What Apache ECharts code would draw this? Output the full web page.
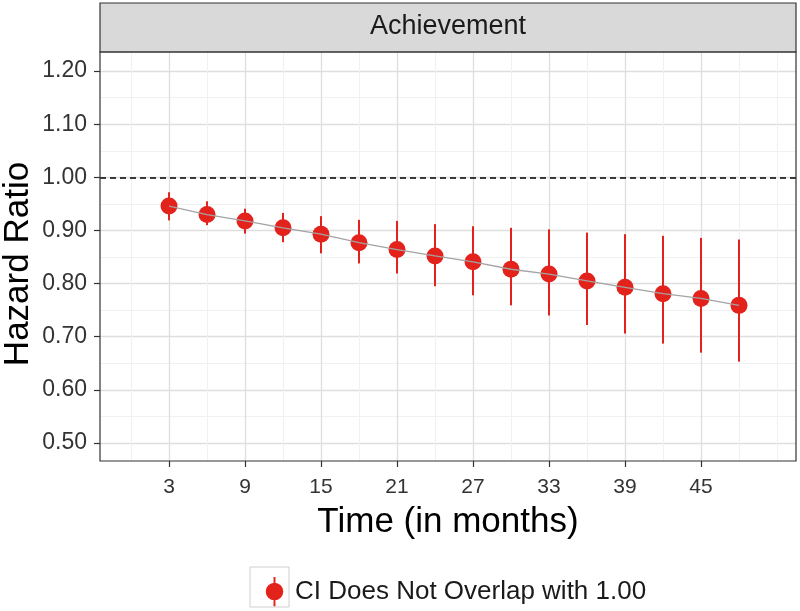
<!DOCTYPE html>
<html>
<head>
<meta charset="utf-8">
<script src="https://cdn.jsdelivr.net/npm/echarts@6/dist/echarts.min.js"></script>
<style>
  html, body { margin: 0; padding: 0; background: #fff; }
  #chart { width: 800px; height: 611px; }
</style>
</head>
<body>
<div id="chart"></div>
<script>
// hazard ratio estimates and CI bounds
const months = [3, 6, 9, 12, 15, 18, 21, 24, 27, 30, 33, 36, 39, 42, 45, 48]
const hr     = [0.946, 0.930, 0.918, 0.905, 0.893, 0.877, 0.864, 0.852, 0.841, 0.827, 0.818, 0.805, 0.793, 0.781, 0.772, 0.759]
const lower  = [0.919, 0.910, 0.894, 0.878, 0.857, 0.838, 0.819, 0.795, 0.778, 0.759, 0.740, 0.722, 0.706, 0.687, 0.670, 0.653]
const upper  = [0.972, 0.955, 0.941, 0.933, 0.927, 0.920, 0.918, 0.912, 0.908, 0.905, 0.902, 0.896, 0.893, 0.890, 0.886, 0.883]

const xTicks = [3, 9, 15, 21, 27, 33, 39, 45]
const xMinor = [0, 6, 12, 18, 24, 30, 36, 42, 48, 51]
const yTicks = [0.5, 0.6, 0.7, 0.8, 0.9, 1.0, 1.1, 1.2]
const yMinor = [0.55, 0.65, 0.75, 0.85, 0.95, 1.05, 1.15]
const refLine = 1.0

const panelTitle  = 'Achievement'
const yTitle      = 'Hazard Ratio'
const legendLabel = 'CI Does Not Overlap with 1.00'

const RED  = '#e3221c'
const FONT = 'Liberation Sans, Arial, sans-serif'

const G = { left: 100, top: 52, right: 4, bottom: 150 }   // panel box
const plotW = 800 - G.left - G.right

const chart = echarts.init(document.getElementById('chart'))

// hidden axes that only carry the minor grid lines
const minorAxis = (min, max, pos, vals) => ({
  type: 'value', min, max, position: pos,
  axisLine: { show: false, onZero: false },
  axisLabel: { show: false },
  axisTick: { show: false, customValues: vals },
  splitLine: { show: true, lineStyle: { color: '#f1f1f1', width: 1 } },
})

chart.setOption({
  backgroundColor: '#fff',
  animation: false,
  textStyle: { fontFamily: FONT },
  grid: { left: G.left, top: G.top, right: G.right, bottom: G.bottom,
    containLabel: false, outerBoundsMode: 'none' },
  xAxis: [
    {
      type: 'value', min: -2.45, max: 52.5, position: 'bottom',
      name: 'Time (in months)', nameLocation: 'middle', nameGap: 44,
      nameTextStyle: { fontSize: 35, color: '#000', fontFamily: FONT },
      axisLine: { show: false, onZero: false },
      axisTick: { show: true, customValues: xTicks, length: 6, lineStyle: { color: '#333', width: 1.2 } },
      axisLabel: { customValues: xTicks, fontSize: 21, color: '#333', margin: 16, fontFamily: FONT },
      splitLine: { show: true, lineStyle: { color: '#dedede', width: 1.3 } },
    },
    minorAxis(-2.45, 52.5, 'top', xMinor),
  ],
  yAxis: [
    {
      type: 'value', min: 0.466, max: 1.236, position: 'left',
      axisLine: { show: false, onZero: false },
      axisTick: { show: true, customValues: yTicks, length: 6, lineStyle: { color: '#333', width: 1.2 } },
      axisLabel: { customValues: yTicks, fontSize: 23, color: '#333', margin: 13, fontFamily: FONT,
        formatter: v => v.toFixed(2) },
      splitLine: { show: true, lineStyle: { color: '#dedede', width: 1.3 } },
    },
    minorAxis(0.466, 1.236, 'right', yMinor),
  ],
  legend: {
    data: [{ name: legendLabel,
      icon: 'path://M0,0 M40,40 M19,5 L21,5 L21,35 L19,35 Z M29,20 A9,9 0 1 1 11,20 A9,9 0 1 1 29,20 Z' }],
    left: 250, top: 567, itemWidth: 39, itemHeight: 40, itemGap: 0,
    textStyle: { fontSize: 26, color: '#1a1a1a', fontFamily: FONT, padding: [0, 0, 4, -4] },
  },
  series: [
    {
      type: 'custom', name: 'ci', z: 3, silent: true,
      data: months.map((m, i) => [m, lower[i], upper[i]]),
      encode: { x: 0, y: [1, 2] },
      renderItem: (params, api) => {
        const lo = api.coord([api.value(0), api.value(1)])
        const hi = api.coord([api.value(0), api.value(2)])
        return { type: 'line', shape: { x1: lo[0], y1: lo[1], x2: hi[0], y2: hi[1] },
          style: { stroke: RED, lineWidth: 2 } }
      },
    },
    {
      type: 'scatter', name: legendLabel, z: 4,
      data: months.map((m, i) => [m, hr[i]]),
      symbol: 'circle', symbolSize: 17,
      itemStyle: { color: RED, opacity: 1 },
      markLine: {
        silent: true, symbol: 'none', label: { show: false },
        lineStyle: { color: '#000', type: [6, 4], width: 1.5 },
        data: [{ yAxis: refLine }],
      },
    },
    {
      type: 'line', name: 'trend', z: 5, silent: true,
      data: months.map((m, i) => [m, hr[i]]),
      symbol: 'none',
      lineStyle: { color: '#a3a3a3', width: 1.3 },
    },
  ],
  graphic: [
    // facet strip
    { type: 'rect', z: 10, shape: { x: G.left, y: 3, width: plotW, height: G.top - 3 },
      style: { fill: '#d9d9d9', stroke: '#333', lineWidth: 1.2 } },
    { type: 'text', z: 11, x: G.left + plotW / 2, y: 27,
      style: { text: panelTitle, fontSize: 27, fill: '#1a1a1a', fontFamily: FONT,
        align: 'center', verticalAlign: 'middle' } },
    // y title, placed by hand (axis name kept getting pushed off the canvas)
    { type: 'text', z: 11, x: 18, y: 264, rotation: Math.PI / 2,
      style: { text: yTitle, fontSize: 35, fill: '#000', fontFamily: FONT,
        align: 'center', verticalAlign: 'middle' } },
    // panel border
    { type: 'rect', z: 10, shape: { x: G.left, y: G.top, width: plotW, height: 611 - G.top - G.bottom },
      style: { fill: 'none', stroke: '#333', lineWidth: 1.2 } },
    // legend key box
    { type: 'rect', z: 1, shape: { x: 250, y: 567, width: 39, height: 40 },
      style: { fill: 'none', stroke: '#cfcfcf', lineWidth: 1 } },
  ],
})
</script>
</body>
</html>
